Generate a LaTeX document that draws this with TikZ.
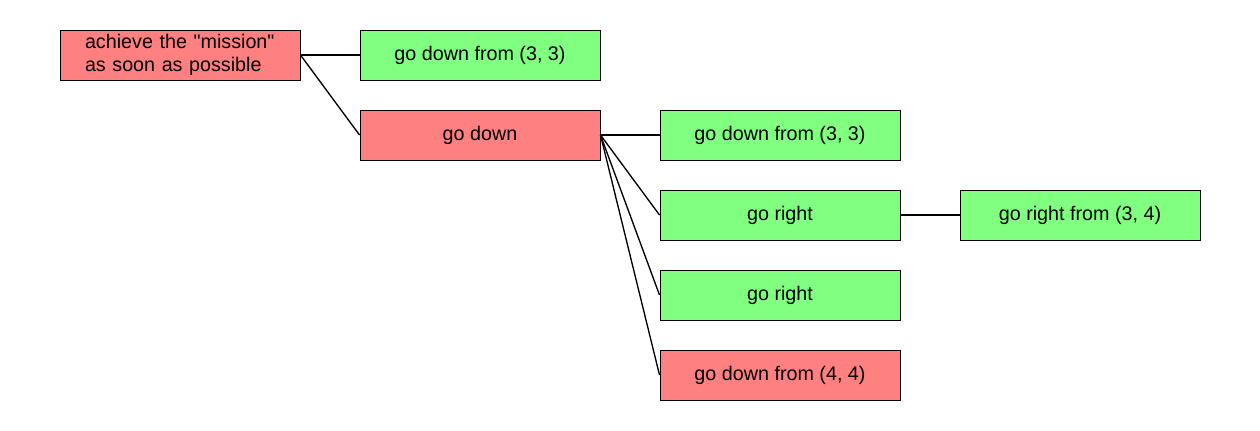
\documentclass[tikz,border=0pt]{standalone}
\usepackage{fontspec}
\setmainfont{Liberation Sans}[Ligatures=TeXOff]
\begin{document}
\begin{tikzpicture}[
  x=0.75pt,y=-0.75pt,
  goal/.style={rectangle,draw,line width=0.75pt,
               minimum width=180pt,minimum height=37.5pt,
               inner sep=0pt,align=center,font=\fontsize{14.8}{16.2}\selectfont},
  bad/.style={goal,fill=red!50},
  good/.style={goal,fill=green!50},
  link/.style={line width=1pt}
]
  \useasboundingbox (0,0) rectangle (1260,430);

  \node[bad,text width=142.5pt,inner xsep=18.75pt,align=left,
        font=\fontsize{14.8}{16.8}\selectfont] (mission) at (180,55)
    {achieve the "mission"\\as soon as possible};

  \node[good] (down33a) at (480,55)  {go down from (3, 3)};
  \node[bad]  (down)    at (480,135) {go down};

  \node[good] (down33b) at (780,135) {go down from (3, 3)};
  \node[good] (right1)  at (780,215) {go right};
  \node[good] (right2)  at (780,295) {go right};
  \node[bad]  (down44)  at (780,375) {go down from (4, 4)};

  \node[good] (right34) at (1080,215) {go right from (3, 4)};

  \draw[link] (mission.east) -- (down33a.west);
  \draw[link] (mission.east) -- (down.west);
  \draw[link] (down.east) -- (down33b.west);
  \draw[link] (down.east) -- (right1.west);
  \draw[link] (down.east) -- (right2.west);
  \draw[link] (down.east) -- (down44.west);
  \draw[link] (right1.east) -- (right34.west);
\end{tikzpicture}
\end{document}
